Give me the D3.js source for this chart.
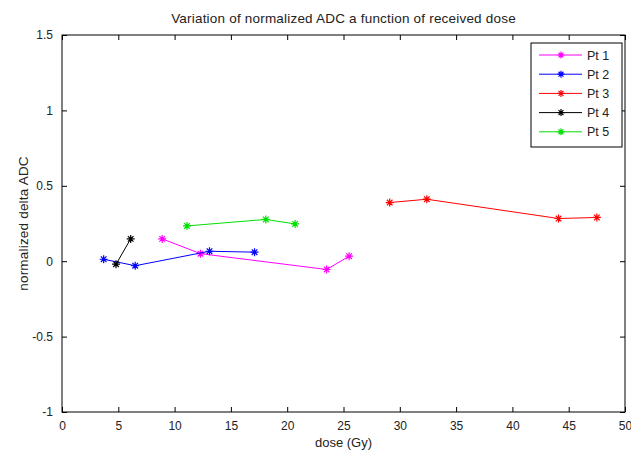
<!DOCTYPE html>
<html><head><meta charset="utf-8">
<script src="https://cdn.jsdelivr.net/npm/d3@7"></script>
<style>body{margin:0;background:#fff;} text{font-family:"Liberation Sans",Arial,sans-serif;}</style>
</head><body><svg id="c" width="631" height="450"></svg>
<script>
const seriesNames = ["Pt 1","Pt 2","Pt 3","Pt 4","Pt 5"];
const seriesColors = ["#ff00ff","#0000ff","#ff0000","#000000","#00e000"];
const pt1Dose = [8.9, 12.3, 23.5, 25.5];
const pt1ADC  = [0.148, 0.05, -0.055, 0.033];
const pt2Dose = [3.7, 6.5, 13.1, 17.1];
const pt2ADC  = [0.013, -0.03, 0.066, 0.06];
const pt3Dose = [29.1, 32.4, 44.1, 47.5];
const pt3ADC  = [0.389, 0.411, 0.283, 0.29];
const pt4Dose = [4.8, 6.1];
const pt4ADC  = [-0.02, 0.148];
const pt5Dose = [11.1, 18.1, 20.7];
const pt5ADC  = [0.234, 0.277, 0.247];
const xTicks = [0,5,10,15,20,25,30,35,40,45,50];
const yTicks = [-1,-0.5,0,0.5,1,1.5];
const titleText = "Variation of normalized ADC a function of received dose";
const xLabel = "dose (Gy)";
const yLabel = "normalized delta ADC";

const doses = [pt1Dose,pt2Dose,pt3Dose,pt4Dose,pt5Dose];
const adcs = [pt1ADC,pt2ADC,pt3ADC,pt4ADC,pt5ADC];
const series = seriesNames.map((n,i)=>({name:n,color:seriesColors[i],pts:doses[i].map((d,j)=>[d,adcs[i][j]])}));

const L=62,R=625,T=35,B=412;
const svg=d3.select("#c");
const x=d3.scaleLinear().domain([0,50]).range([L,R]);
const y=d3.scaleLinear().domain([-1,1.5]).range([B,T]);
const tc="#222";

svg.append("rect").attr("x",L).attr("y",T).attr("width",R-L).attr("height",B-T).attr("fill","#fff").attr("stroke","#000").attr("stroke-width",1);

function styleAxis(g){g.select(".domain").remove();g.selectAll("line").attr("stroke","#000");g.selectAll("text").attr("fill",tc).style("font-size","12px");}
svg.append("g").attr("transform",`translate(0,${B})`).call(d3.axisBottom(x).tickValues(xTicks).tickSize(-5).tickPadding(9).tickFormat(d3.format("d"))).call(styleAxis);
svg.append("g").attr("transform",`translate(0,${T})`).call(d3.axisTop(x).tickValues(xTicks).tickSize(-5).tickFormat("")).call(styleAxis);
svg.append("g").attr("transform",`translate(${L},0)`).call(d3.axisLeft(y).tickValues(yTicks).tickSize(-5).tickPadding(9).tickFormat(d=>String(d))).call(styleAxis);
svg.append("g").attr("transform",`translate(${R},0)`).call(d3.axisRight(y).tickValues(yTicks).tickSize(-5).tickFormat("")).call(styleAxis);

const line=d3.line().x(d=>x(d[0])).y(d=>y(d[1]));
function star(g,cx,cy,color,r){
  const p=`M${cx-r},${cy}L${cx+r},${cy}M${cx},${cy-r}L${cx},${cy+r}M${cx-r*0.7},${cy-r*0.7}L${cx+r*0.7},${cy+r*0.7}M${cx-r*0.7},${cy+r*0.7}L${cx+r*0.7},${cy-r*0.7}`;
  g.append("path").attr("d",p).attr("stroke",color).attr("stroke-width",1.2).attr("fill","none");
}
series.forEach(s=>{
  const g=svg.append("g");
  g.append("path").attr("d",line(s.pts)).attr("fill","none").attr("stroke",s.color).attr("stroke-width",1);
  s.pts.forEach(p=>star(g,x(p[0]),y(p[1]),s.color,4));
});

// legend
const lg=svg.append("g");
lg.append("rect").attr("x",531).attr("y",43).attr("width",91).attr("height",104).attr("fill","#fff").attr("stroke","#000").attr("stroke-width",1);
series.forEach((s,i)=>{
  const yy=55+i*19.2;
  lg.append("line").attr("x1",539).attr("x2",582).attr("y1",yy).attr("y2",yy).attr("stroke",s.color).attr("stroke-width",1);
  star(lg,561,yy,s.color,3.5);
  lg.append("text").attr("x",587).attr("y",yy+4.5).text(s.name).attr("fill",tc).style("font-size","12.5px");
});

svg.append("text").attr("x",(L+R)/2).attr("y",23).attr("text-anchor","middle").attr("fill",tc).style("font-size","13.5px").style("letter-spacing","0.2px").text(titleText);
svg.append("text").attr("x",(L+R)/2).attr("y",447).attr("text-anchor","middle").attr("fill",tc).style("font-size","13px").text(xLabel);
svg.append("text").attr("transform",`translate(28,${(T+B)/2}) rotate(-90)`).attr("text-anchor","middle").attr("fill",tc).style("font-size","13.5px").style("letter-spacing","0.2px").text(yLabel);
</script></body></html>
